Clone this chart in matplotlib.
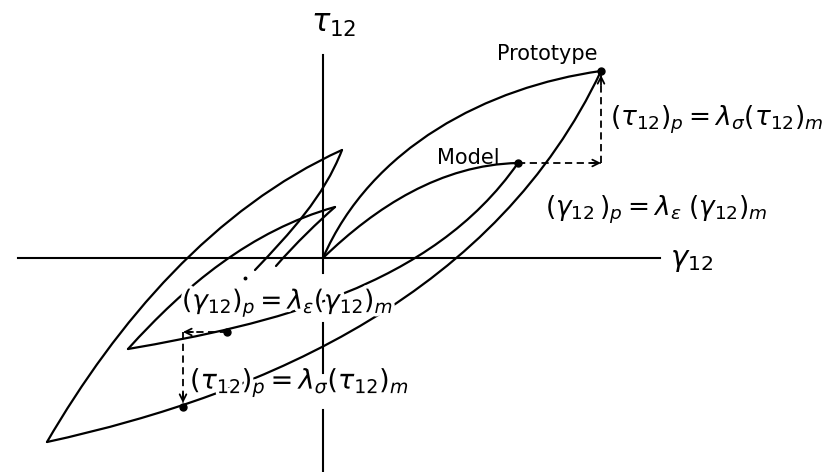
import matplotlib
matplotlib.use('Agg')
import matplotlib.pyplot as plt
from matplotlib.path import Path
from matplotlib.patches import PathPatch, FancyArrowPatch
import matplotlib.patheffects as pe

plt.rcParams['font.family'] = ['DejaVu Sans']
plt.rcParams['mathtext.fontset'] = 'dejavusans'

# ---- data: cubic Bezier control points (x, y) of every branch (origin = axes crossing)
proto_load_x = [0, 47.7, 164.3, 278]
proto_load_y = [0, 110.3, 171.2, 187]
proto_unload_x = [278, 174.3, -52.3, -276]
proto_unload_y = [187, -32.7, -135.3, -184]
proto_reload_x = [-276, -206.2, -109.3, 19]
proto_reload_y = [-184, -64.2, 49.7, 108]
proto_unload2_x = [19, 0.5, -33, -68]
proto_unload2_y = [108, 60.5, 25, -12]

model_load_x = [0, 53, 118, 195]
model_load_y = [0, 51.2, 93.3, 95]
model_unload_x = [195, 108.5, -53, -195]
model_unload_y = [95, -29.3, -66.5, -91]
model_reload_x = [-195, -138, -71.7, 12]
model_reload_y = [-91, -27.8, 27.5, 51]
model_unload2_x = [12, -5, -27, -47]
model_unload2_y = [51, 36, 15, -8]

# marked states
prototype_pt = (278, 187)
model_pt = (195, 95)
model_neg_pt = (-96, -74)
proto_neg_pt = (-140, -149)
trail_dot = (-78, -20)

# axes extents
h_axis_x = [-305, 337]
v_axis_segments = [(203, -15), (-65, -115), (-152, -214)]

fig = plt.figure(figsize=(8.29, 4.72), dpi=100)
ax = fig.add_axes([0, 0, 1, 1])
ax.set_xlim(-323, 506)
ax.set_ylim(-214, 258)
ax.axis('off')

LW = 1.6
# axes lines
ax.plot(h_axis_x, [0, 0], color='black', lw=1.5, zorder=1)
for y0, y1 in v_axis_segments:
    ax.plot([0, 0], [y0, y1], color='black', lw=1.5, zorder=1)

def bez(xs, ys):
    verts = list(zip(xs, ys))
    codes = [Path.MOVETO, Path.CURVE4, Path.CURVE4, Path.CURVE4]
    ax.add_patch(PathPatch(Path(verts, codes), fill=False, lw=LW,
                           ec='black', capstyle='round', zorder=2))

for xs, ys in [(proto_load_x, proto_load_y), (proto_unload_x, proto_unload_y),
               (proto_reload_x, proto_reload_y), (proto_unload2_x, proto_unload2_y),
               (model_load_x, model_load_y), (model_unload_x, model_unload_y),
               (model_reload_x, model_reload_y), (model_unload2_x, model_unload2_y)]:
    bez(xs, ys)

for p in [prototype_pt, model_pt, model_neg_pt, proto_neg_pt]:
    ax.plot(*p, 'o', color='black', ms=5, zorder=3)
ax.plot(*trail_dot, 'o', color='black', ms=1.8, zorder=3)

# dashed scaling arrows
def dashed_arrow(p0, p1):
    ax.plot([p0[0], p1[0]], [p0[1], p1[1]], color='black', lw=1.3,
            dashes=(4, 2.5), zorder=2)
    dx, dy = p1[0] - p0[0], p1[1] - p0[1]
    L = (dx ** 2 + dy ** 2) ** 0.5
    start = (p1[0] - dx / L * 10, p1[1] - dy / L * 10)
    ax.add_patch(FancyArrowPatch(start, p1, arrowstyle='->', mutation_scale=12,
                                 lw=1.3, color='black', shrinkA=0, shrinkB=0, zorder=3))

corner_up = (prototype_pt[0], model_pt[1])
dashed_arrow(model_pt, corner_up)
dashed_arrow(corner_up, (prototype_pt[0], prototype_pt[1] - 4))
corner_low = (proto_neg_pt[0], model_neg_pt[1])
dashed_arrow(model_neg_pt, corner_low)
dashed_arrow(corner_low, (proto_neg_pt[0], proto_neg_pt[1] + 4))

halo = [pe.withStroke(linewidth=5, foreground='white')]

ax.text(11, 233, r'$\tau_{12}$', fontsize=22, ha='center', va='center')
ax.text(347, -2, r'$\gamma_{12}$', fontsize=21, ha='left', va='center')
ax.text(275, 204, 'Prototype', fontsize=15, ha='right', va='center')
ax.text(177, 100, 'Model', fontsize=15, ha='right', va='center')
ax.text(287, 138, r'$(\tau_{12})_p = \lambda_\sigma(\tau_{12})_m$', fontsize=19,
        ha='left', va='center')
ax.text(222, 48, r'$(\gamma_{12}\,)_p = \lambda_\varepsilon\;(\gamma_{12})_m$', fontsize=19,
        ha='left', va='center')
ax.text(-141, -45, r'$(\gamma_{12})_p = \lambda_\varepsilon(\gamma_{12})_m$', fontsize=19,
        ha='left', va='center', path_effects=halo, zorder=5)
ax.text(-133, -125, r'$(\tau_{12})_p = \lambda_\sigma(\tau_{12})_m$', fontsize=19.5,
        ha='left', va='center', path_effects=halo, zorder=5)

fig.savefig('out.png', dpi=100)
